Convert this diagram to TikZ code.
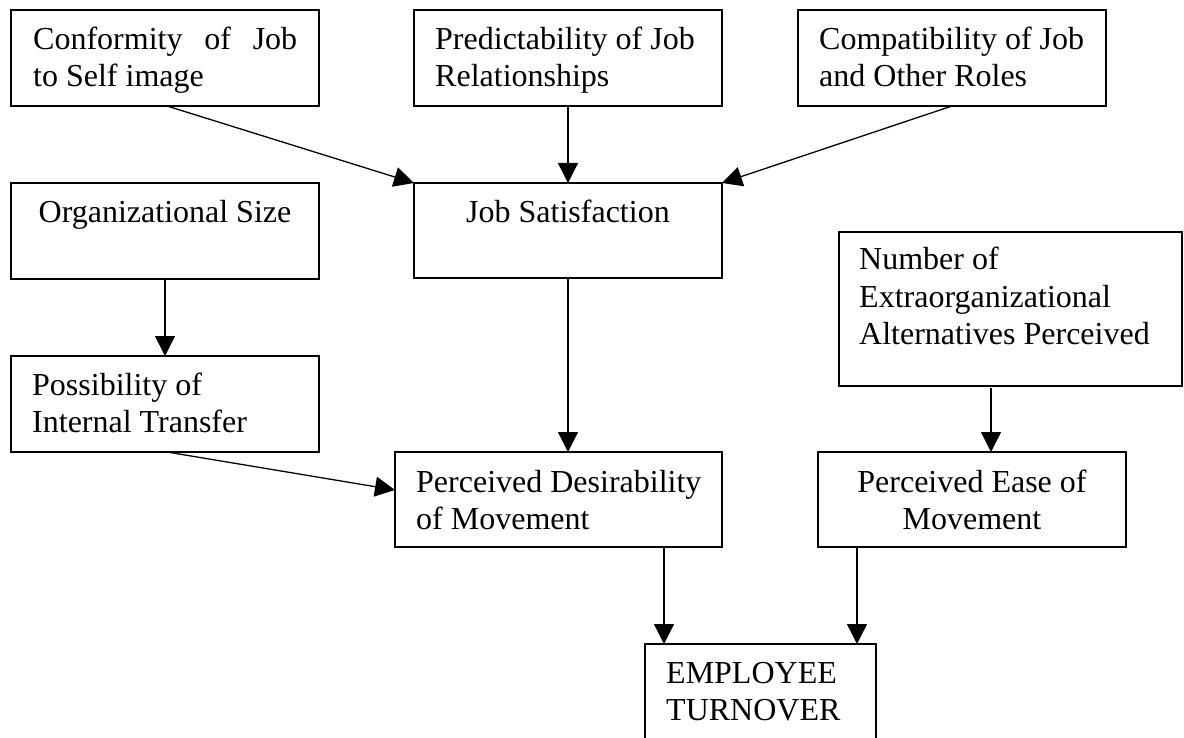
\documentclass[tikz,border=0pt]{standalone}
\usepackage{fontspec}
\setmainfont{Liberation Serif}
\usetikzlibrary{arrows.meta,calc}
\tikzset{
  box/.style={draw, line width=1.5pt, anchor=north west, inner sep=0pt, outer sep=0pt},
  arr/.style={line width=1.3pt, -{Triangle[width=20pt,length=20pt]}},
  txt/.style={inner sep=0pt, anchor=base west, font=\fontsize{32}{37}\selectfont},
  ctxt/.style={txt, anchor=base},
}
\begin{document}
\begin{tikzpicture}[x=1pt,y=-1pt]
\useasboundingbox (0,0) rectangle (1184,738);
\clip (0,0) rectangle (1184,738);
% boxes
\node[box, minimum width=308pt, minimum height=96pt] (conf) at (11,10) {};
\node[box, minimum width=308pt, minimum height=96pt] (pred) at (414,10) {};
\node[box, minimum width=308pt, minimum height=96pt] (comp) at (798,10) {};
\node[box, minimum width=308pt, minimum height=95pt] (js) at (414,183) {};
\node[box, minimum width=308pt, minimum height=96pt] (org) at (11,183) {};
\node[box, minimum width=308pt, minimum height=96pt] (poss) at (11,356) {};
\node[box, minimum width=343pt, minimum height=154pt] (num) at (839,232) {};
\node[box, minimum width=327pt, minimum height=95pt] (pd) at (395,452) {};
\node[box, minimum width=308pt, minimum height=95pt] (ease) at (818,452) {};
\node[box, minimum width=231pt, minimum height=130pt] (et) at (645,644) {};
% texts
\node[txt] (confT) at ($(conf.north west)+(22,40)$) {\begin{minipage}[t]{264pt}Conformity of Job\linebreak to Self image\end{minipage}};
\node[txt] (predT) at ($(pred.north west)+(21,40)$) {\begin{minipage}[t]{280pt}\raggedright Predictability of Job\\Relationships\end{minipage}};
\node[txt] (compT) at ($(comp.north west)+(21,40)$) {\begin{minipage}[t]{280pt}\raggedright Compatibility of Job\\and Other Roles\end{minipage}};
\node[ctxt] (jsT) at ($(js.north)+(0,40)$) {Job Satisfaction};
\node[ctxt] (orgT) at ($(org.north)+(0,40)$) {Organizational Size};
\node[txt] (possT) at ($(poss.north west)+(21,39)$) {\begin{minipage}[t]{280pt}\raggedright Possibility of\\Internal Transfer\end{minipage}};
\node[txt] (numT) at ($(num.north west)+(20,38)$) {\begin{minipage}[t]{310pt}\raggedright Number of\\Extraorganizational\\Alternatives Perceived\end{minipage}};
\node[txt] (pdT) at ($(pd.north west)+(21,40)$) {\begin{minipage}[t]{300pt}\raggedright Perceived Desirability\\of Movement\end{minipage}};
\node[ctxt] (easeT) at ($(ease.north)+(0,40)$) {\begin{minipage}[t]{280pt}\centering Perceived Ease of\\Movement\end{minipage}};
\node[txt] (etT) at ($(et.north west)+(21,39)$) {\begin{minipage}[t]{200pt}\raggedright EMPLOYEE\\TURNOVER\end{minipage}};
% connectors
\draw[arr] ($(conf.south west)+(156,0)$) -- (js.north west);
\draw[arr] (pred.south) -- (js.north);
\draw[arr] ($(comp.south west)+(154,0)$) -- (js.north east);
\draw[arr] (org.south) -- (poss.north);
\draw[arr] (js.south) -- (js.south |- pd.north);
\draw[arr] ($(poss.south west)+(156,0)$) -- ($(pd.north west)+(0,38)$);
\draw[arr] ($(num.south west)+(152,2)$) -- ($(ease.north west)+(173,0)$);
\draw[arr] ($(pd.south west)+(269,0)$) -- ($(et.north west)+(19,0)$);
\draw[arr] ($(ease.south west)+(39,0)$) -- ($(et.north west)+(212,0)$);
\end{tikzpicture}
\end{document}
